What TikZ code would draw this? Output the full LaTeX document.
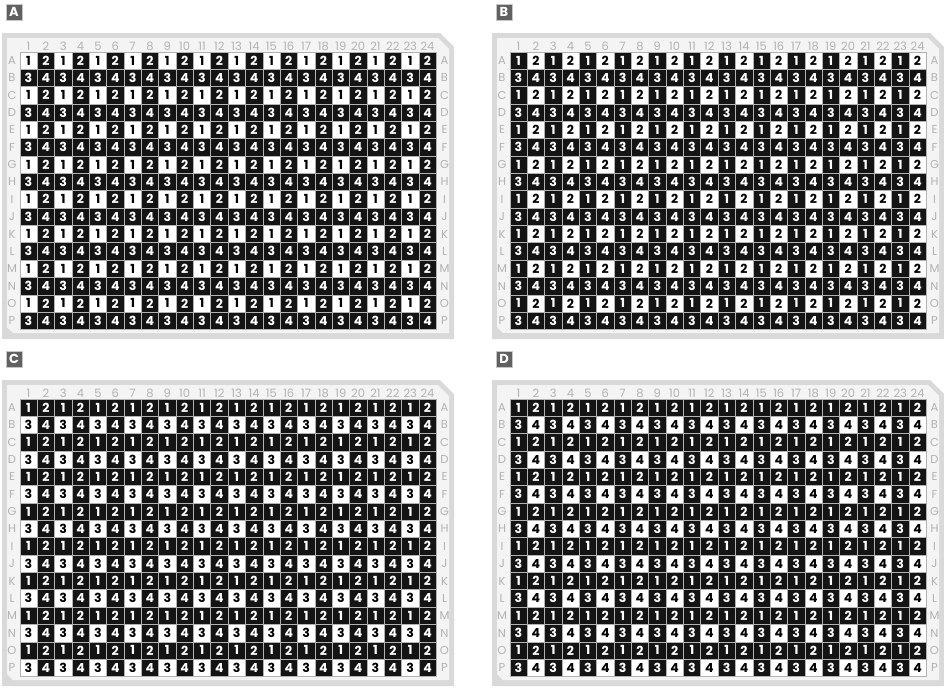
\documentclass[tikz,border=0pt]{standalone}
\usepackage{fontspec}
\setmainfont{Poppins}
\usetikzlibrary{positioning}

\begin{document}
\begin{tikzpicture}[
	x=1pt, y=-1pt,
	every node/.style={font=\fontsize{12}{12}\selectfont},
	well/.style={draw=gray!60, line width=0.4pt, minimum size=17.35pt, inner sep=0pt, font=\fontsize{12.5}{12.5}\selectfont\bfseries},
	coord/.style={text=gray!60, inner sep=0pt, font=\fontsize{11.5}{11.5}\selectfont},
	tag/.style={fill=black!62, draw=gray!45, line width=0.8pt, text=white, minimum size=16pt, inner sep=0pt, font=\fontsize{13}{13}\selectfont\bfseries}
]
\useasboundingbox (0,0) rectangle (944,689);

% one plate per panel, the white well number is the last field
\foreach \name/\ox/\oy/\hole in {A/0/0/1, B/490/0/2, C/0/347/3, D/490/347/4}{
\begin{scope}[shift={(\ox,\oy)}]
	\node[tag] (tag\name) at (14,12) {\name};

	% plate body
	\fill[gray!30] (2,33) -- (440,33) -- (454,47) -- (454,339) -- (2,339) -- cycle;
	\fill[gray!9] (7,38) -- (438,38) -- (449,49) -- (449,333) -- (13,333) -- (7,327) -- cycle;

	% column numbers
	\foreach \j in {1,...,24}
		\node[coord] (\name-col\j) at ({28.5+(\j-1)*17.35},46.5) {\j};

	% rows of wells
	\foreach \r [count=\i] in {A,...,P}{
		\node[coord] (\name-left\r) at (12,{60.5+(\i-1)*17.35}) {\r};
		\node[coord] (\name-right\r) at (444.5,{60.5+(\i-1)*17.35}) {\r};
		\foreach \j in {1,...,24}{
			\pgfmathtruncatemacro{\n}{1+mod(\j-1,2)+2*mod(\i-1,2)}
			\ifnum\n=\hole \def\wfill{white}\def\wtext{black}\else\def\wfill{black!92}\def\wtext{white}\fi
			\node[well, fill=\wfill, text=\wtext] (\name-\r\j) at ({28.5+(\j-1)*17.35},{60.5+(\i-1)*17.35}) {\n};
		}
	}
\end{scope}
}

\end{tikzpicture}
\end{document}
